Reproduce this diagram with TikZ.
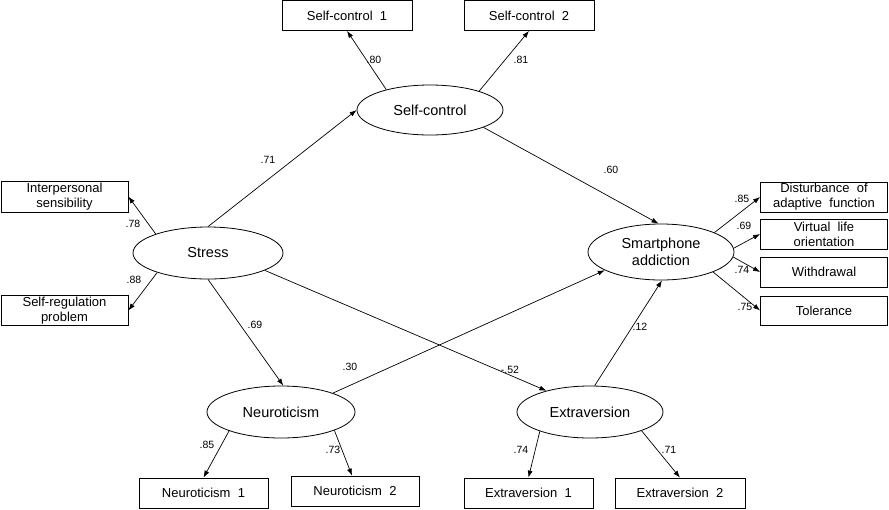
\documentclass[tikz,border=0pt]{standalone}
\usepackage{fontspec}
\setmainfont{Liberation Sans}
\usetikzlibrary{arrows.meta,shapes.geometric}
\tikzset{
  obs/.style={draw, line width=0.8pt, rectangle, inner sep=0pt, align=center,
    font=\fontsize{13}{15}\selectfont},
  lat/.style={draw, line width=0.8pt, ellipse, inner sep=0pt, align=center,
    font=\fontsize{14.5}{17}\selectfont},
  path/.style={line width=0.7pt, -{Latex[length=7pt,width=5pt]}},
  coef/.style={font=\fontsize{10.5}{11}\selectfont, inner sep=0pt}
}
\begin{document}
\begin{tikzpicture}[x=1pt,y=-1pt]
\useasboundingbox (0,0) rectangle (889,509);
% observed boxes
\node[obs, minimum width=130, minimum height=30] (sc1) at (347,15.5) {Self-control\ \ 1};
\node[obs, minimum width=130, minimum height=30] (sc2) at (529,15.5) {Self-control\ \ 2};
\node[obs, minimum width=127, minimum height=31] (ip) at (64.5,196.5) {Interpersonal\\sensibility};
\node[obs, minimum width=127, minimum height=30] (sr) at (64.5,310.5) {Self-regulation\\problem};
\node[obs, minimum width=127, minimum height=30] (d1) at (824,197) {Disturbance\ \ of\\adaptive\ \ function};
\node[obs, minimum width=127, minimum height=30] (v1) at (824,234) {Virtual\ \ life\\orientation};
\node[obs, minimum width=127, minimum height=30] (w1) at (824,272) {Withdrawal};
\node[obs, minimum width=127, minimum height=29] (t1) at (824,310.5) {Tolerance};
\node[obs, minimum width=129, minimum height=30] (n1) at (203.5,493) {Neuroticism\ \ 1};
\node[obs, minimum width=128, minimum height=30] (n2) at (355,491) {Neuroticism\ \ 2};
\node[obs, minimum width=129, minimum height=30] (e1) at (528.5,493) {Extraversion\ \ 1};
\node[obs, minimum width=130, minimum height=30] (e2) at (680,493) {Extraversion\ \ 2};
% latent ellipses
\node[lat, minimum width=146, minimum height=50] (sc) at (430,110) {Self-control};
\node[lat, minimum width=150, minimum height=52] (st) at (208,253) {Stress};
\node[lat, minimum width=146, minimum height=56] (sa) at (661,252) {Smartphone\\addiction};
\node[lat, minimum width=148, minimum height=52] (ne) at (281,412) {Neuroticism};
\node[lat, minimum width=146, minimum height=52] (ex) at (590,412) {Extraversion};
% paths
\draw[path] (sc.155) -- (sc1.south);
\draw[path] (sc.21) -- (sc2.south);
\draw[path] (st.north) -- (sc.west);
\draw[path] (sc.-18) -- (sa.95);
\draw[path] (st.160) -- (ip.east);
\draw[path] (st.201) -- (sr.east);
\draw[path] (st.south) -- (ne.85);
\draw[path] (st.-17) -- (ex.154);
\draw[path] (ne.20) -- (sa.198);
\draw[path] (ex.80) -- (sa.272);
\draw[path] (sa.20) -- (d1.west);
\draw[path] (sa.3) -- (v1.west);
\draw[path] (sa.-4) -- (w1.west);
\draw[path] (sa.-21) -- (t1.west);
\draw[path] (ne.200) -- (n1.north);
\draw[path] (ne.-19) -- ([xshift=-3pt]n2.north);
\draw[path] (ex.201) -- (e1.north);
\draw[path] (ex.-20) -- (e2.north);
% coefficients
\node[coef] (c1) at (374,60) {.80};
\node[coef] (c2) at (521,60) {.81};
\node[coef] (c3) at (268,160) {.71};
\node[coef] (c4) at (611,170) {.60};
\node[coef] (c5) at (133,224) {.78};
\node[coef] (c6) at (134,280) {.88};
\node[coef] (c7) at (255,325) {.69};
\node[coef] (c8) at (510,370) {-.52};
\node[coef] (c9) at (350,367) {.30};
\node[coef] (c10) at (640,327) {.12};
\node[coef] (c11) at (742,199) {.85};
\node[coef] (c12) at (744,226) {.69};
\node[coef] (c13) at (742,270) {.74};
\node[coef] (c14) at (745,307) {.75};
\node[coef] (c15) at (207,445) {.85};
\node[coef] (c16) at (333,450) {.73};
\node[coef] (c17) at (521,450) {.74};
\node[coef] (c18) at (669,450) {.71};
\end{tikzpicture}
\end{document}
